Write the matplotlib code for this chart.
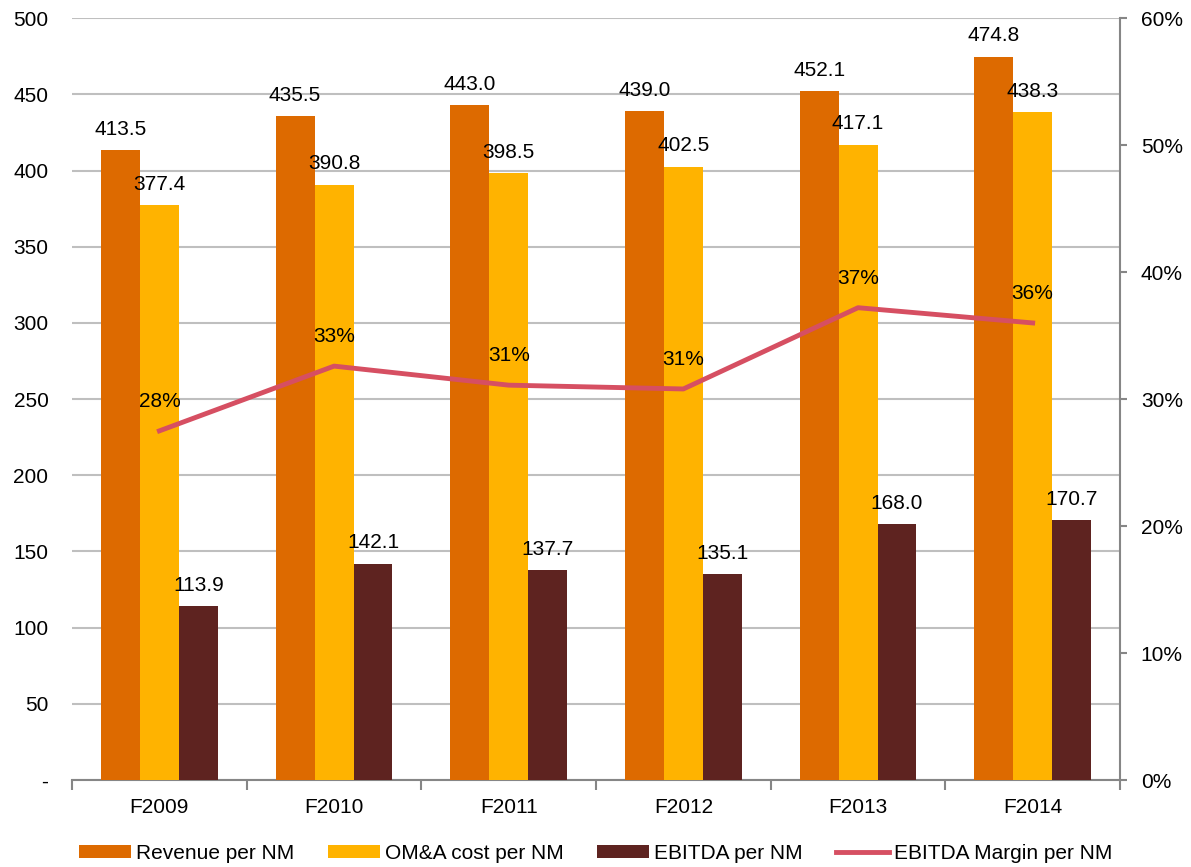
import matplotlib.pyplot as plt
import numpy as np
from matplotlib.ticker import FuncFormatter

plt.rcParams['font.family'] = ['Liberation Sans', 'DejaVu Sans']

years = ['F2009', 'F2010', 'F2011', 'F2012', 'F2013', 'F2014']
revenue = [413.5, 435.5, 443.0, 439.0, 452.1, 474.8]
oma_cost = [377.4, 390.8, 398.5, 402.5, 417.1, 438.3]
ebitda = [113.9, 142.1, 137.7, 135.1, 168.0, 170.7]
margin = [27.5, 32.6, 31.1, 30.8, 37.2, 36.0]

c_rev = '#DD6A00'
c_oma = '#FFB300'
c_ebit = '#5E2320'
c_line = '#D64F62'
grid_c = '#BFBFBF'
spine_c = '#868686'
fs = 15

fig = plt.figure(figsize=(11.91, 8.67), dpi=100)
ax = fig.add_axes([0.0605, 0.1003, 0.8799, 0.8787])
ax2 = ax.twinx()

x = np.arange(len(years))
w = 0.223

b1 = ax.bar(x - w, revenue, w, color=c_rev, label='Revenue per NM', zorder=3)
b2 = ax.bar(x, oma_cost, w, color=c_oma, label='OM&A cost per NM', zorder=3)
b3 = ax.bar(x + w, ebitda, w, color=c_ebit, label='EBITDA per NM', zorder=3)

# value labels above each bar
for bars, vals in [(b1, revenue), (b2, oma_cost), (b3, ebitda)]:
    for rect, v in zip(bars, vals):
        ax.annotate(f'{v:.1f}', (rect.get_x() + rect.get_width() / 2, v),
                    xytext=(0, 15), textcoords='offset points',
                    ha='center', va='center', fontsize=fs, zorder=5)

# margin line on the right axis
ln, = ax2.plot(x, margin, color=c_line, lw=3.5, label='EBITDA Margin per NM', zorder=4)
for xi, m in zip(x, margin):
    ax2.annotate(f'{m:.0f}%', (xi, m), xytext=(0, 21), textcoords='offset points',
                 ha='center', va='center', fontsize=fs)

ax.set_xlim(-0.5, len(years) - 0.5)
ax.set_ylim(0, 500)
ax2.set_ylim(0, 60)

ax.set_yticks(np.arange(0, 501, 50))
ax.yaxis.set_major_formatter(FuncFormatter(lambda v, p: '-' if v == 0 else f'{v:.0f}'))
ax2.set_yticks(np.arange(0, 61, 10))
ax2.yaxis.set_major_formatter(FuncFormatter(lambda v, p: f'{v:.0f}%'))

ax.set_xticks(x)
ax.set_xticklabels(years)
ax.set_xticks(np.arange(-0.5, len(years), 1), minor=True)
ax.tick_params(axis='x', which='major', length=0, pad=13, labelsize=fs)
ax.tick_params(axis='x', which='minor', length=7, color=spine_c, width=1.5, direction='out')
ax.tick_params(axis='y', length=0, pad=17, labelsize=fs)
ax2.tick_params(axis='y', which='major', right=True, length=5, color=spine_c, width=1.5,
                pad=10, labelsize=fs)

ax.grid(axis='y', color=grid_c, lw=1.5, zorder=0)
ax.set_axisbelow(True)

for s in ['top', 'left', 'right']:
    ax.spines[s].set_visible(False)
for s in ['top', 'left', 'bottom']:
    ax2.spines[s].set_visible(False)
ax.spines['bottom'].set_color(spine_c)
ax.spines['bottom'].set_linewidth(1.5)
ax2.spines['right'].set_color(spine_c)
ax2.spines['right'].set_linewidth(1.5)

handles = [b1, b2, b3, ln]
fig.legend(handles, [h.get_label() for h in handles], loc='center',
           bbox_to_anchor=(0.5, 0.016), ncol=4, frameon=False, fontsize=fs,
           handlelength=2.5, handleheight=0.55, columnspacing=1.6, handletextpad=0.25)

fig.savefig('out.png', dpi=100)
